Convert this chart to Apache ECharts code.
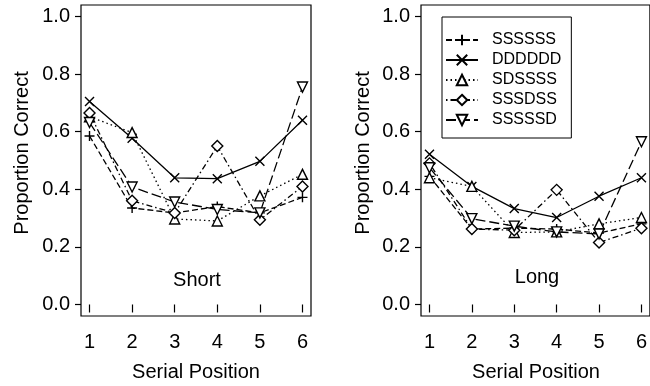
<!DOCTYPE html>
<html>
<head>
<meta charset="utf-8">
<script src="https://cdn.jsdelivr.net/npm/echarts@6/dist/echarts.min.js"></script>
<style>
  html, body { margin: 0; padding: 0; background: #fff; }
  #chart { width: 650px; height: 386px; }
</style>
</head>
<body>
<div id="chart"></div>
<script>
// serial positions and conditions
const positions = [1, 2, 3, 4, 5, 6];
const conditions = ["SSSSSS", "DDDDDD", "SDSSSS", "SSSDSS", "SSSSSD"];
const yTicks = [0, 0.2, 0.4, 0.6, 0.8, 1.0];

// Short lists
const shortSSSSSS = [0.585, 0.335, 0.318, 0.34, 0.318, 0.372];
const shortDDDDDD = [0.705, 0.577, 0.44, 0.437, 0.497, 0.64];
const shortSDSSSS = [0.652, 0.597, 0.297, 0.29, 0.377, 0.452];
const shortSSSDSS = [0.665, 0.36, 0.318, 0.55, 0.294, 0.41];
const shortSSSSSD = [0.632, 0.408, 0.356, 0.33, 0.318, 0.755];

// Long lists
const longSSSSSS = [0.445, 0.262, 0.265, 0.262, 0.248, 0.28];
const longDDDDDD = [0.522, 0.41, 0.333, 0.302, 0.376, 0.44];
const longSDSSSS = [0.44, 0.41, 0.25, 0.252, 0.28, 0.302];
const longSSSDSS = [0.49, 0.262, 0.258, 0.398, 0.215, 0.265];
const longSSSSSD = [0.475, 0.298, 0.272, 0.252, 0.245, 0.565];

const FONT = "Liberation Sans, Arial, sans-serif";

// one look per condition: symbol + dash pattern
const styles = {
   SSSSSS: { symbol: "path://M0,5L10,5M5,0L5,10", size: 10, dash: [6, 3] },
   DDDDDD: { symbol: "path://M0,0L10,10M10,0L0,10", size: 9, dash: "solid" },
   SDSSSS: { symbol: "triangle", size: 10, dash: [1.5, 3] },
   SSSDSS: { symbol: "diamond", size: 11, dash: [1.5, 3, 6, 3] },
   SSSSSD: { symbol: "path://M0,0L10,0L5,9Z", size: 10, dash: [10, 4] },
};

const pairs = (vals) => positions.map((p, i) => [p, vals[i]]);

const makeSeries = (name, vals, idx) => {
   const s = styles[name];
   return {
      name,
      type: "line",
      xAxisIndex: idx,
      yAxisIndex: idx,
      data: pairs(vals),
      symbol: s.symbol,
      symbolSize: s.size,
      showAllSymbol: true,
      lineStyle: { color: "#000", width: 1.3, type: s.dash },
      itemStyle: { color: "#fff", borderColor: "#000", borderWidth: 1.4 },
      emphasis: { disabled: true },
      animation: false,
   };
};

const xAxisOf = (idx) => ({
   type: "value",
   gridIndex: idx,
   min: 0.8,
   max: 6.2,
   axisLine: { show: false },
   splitLine: { show: false },
   axisTick: { show: true, length: 8, lineStyle: { color: "#000", width: 1.2 }, customValues: positions },
   axisLabel: { color: "#000", fontFamily: FONT, fontSize: 20, margin: 16, customValues: positions },
});

const yAxisOf = (idx) => ({
   type: "value",
   gridIndex: idx,
   min: -0.04,
   max: 1.04,
   axisLine: { show: false },
   splitLine: { show: false },
   axisTick: { show: true, length: 6, lineStyle: { color: "#000", width: 1.2 }, customValues: yTicks },
   axisLabel: {
      color: "#000", fontFamily: FONT, fontSize: 20, margin: 11,
      customValues: yTicks,
      formatter: (v) => v.toFixed(1),
   },
});

const chart = echarts.init(document.getElementById("chart"), null, { renderer: "canvas" });

const option = {
   backgroundColor: "#fff",
   animation: false,
   grid: [
      { left: 81, top: 5, width: 230, height: 311, show: true, borderColor: "#000", borderWidth: 1.2, backgroundColor: "transparent" },
      { left: 421, top: 5, width: 230, height: 311, show: true, borderColor: "#000", borderWidth: 1.2, backgroundColor: "transparent" },
   ],
   xAxis: [xAxisOf(0), xAxisOf(1)],
   yAxis: [yAxisOf(0), yAxisOf(1)],
   legend: {
      data: conditions,
      orient: "vertical",
      left: 442,
      top: 17,
      padding: [15, 10, 10, 3],
      itemWidth: 32,
      itemHeight: 13,
      itemGap: 4,
      borderColor: "#000",
      borderWidth: 1,
      backgroundColor: "#fff",
      selectedMode: false,
      textStyle: { color: "#000", fontFamily: FONT, fontSize: 16, padding: [0, 0, 0, 9] },
   },
   graphic: [
      { type: "text", x: 22, y: 153, rotation: Math.PI / 2, style: { text: "Proportion Correct", font: `20px ${FONT}`, fill: "#000", textAlign: "center", textVerticalAlign: "middle" } },
      { type: "text", x: 363, y: 153, rotation: Math.PI / 2, style: { text: "Proportion Correct", font: `20px ${FONT}`, fill: "#000", textAlign: "center", textVerticalAlign: "middle" } },
      { type: "text", x: 196, y: 372, style: { text: "Serial Position", font: `20px ${FONT}`, fill: "#000", textAlign: "center", textVerticalAlign: "middle" } },
      { type: "text", x: 536, y: 372, style: { text: "Serial Position", font: `20px ${FONT}`, fill: "#000", textAlign: "center", textVerticalAlign: "middle" } },
      { type: "text", x: 197, y: 280, style: { text: "Short", font: `20px ${FONT}`, fill: "#000", textAlign: "center", textVerticalAlign: "middle" } },
      { type: "text", x: 537, y: 277, style: { text: "Long", font: `20px ${FONT}`, fill: "#000", textAlign: "center", textVerticalAlign: "middle" } },
   ],
   series: [
      makeSeries("SSSSSS", shortSSSSSS, 0),
      makeSeries("DDDDDD", shortDDDDDD, 0),
      makeSeries("SDSSSS", shortSDSSSS, 0),
      makeSeries("SSSDSS", shortSSSDSS, 0),
      makeSeries("SSSSSD", shortSSSSSD, 0),
      makeSeries("SSSSSS", longSSSSSS, 1),
      makeSeries("DDDDDD", longDDDDDD, 1),
      makeSeries("SDSSSS", longSDSSSS, 1),
      makeSeries("SSSDSS", longSSSDSS, 1),
      makeSeries("SSSSSD", longSSSSSD, 1),
   ],
};

chart.setOption(option);
</script>
</body>
</html>
